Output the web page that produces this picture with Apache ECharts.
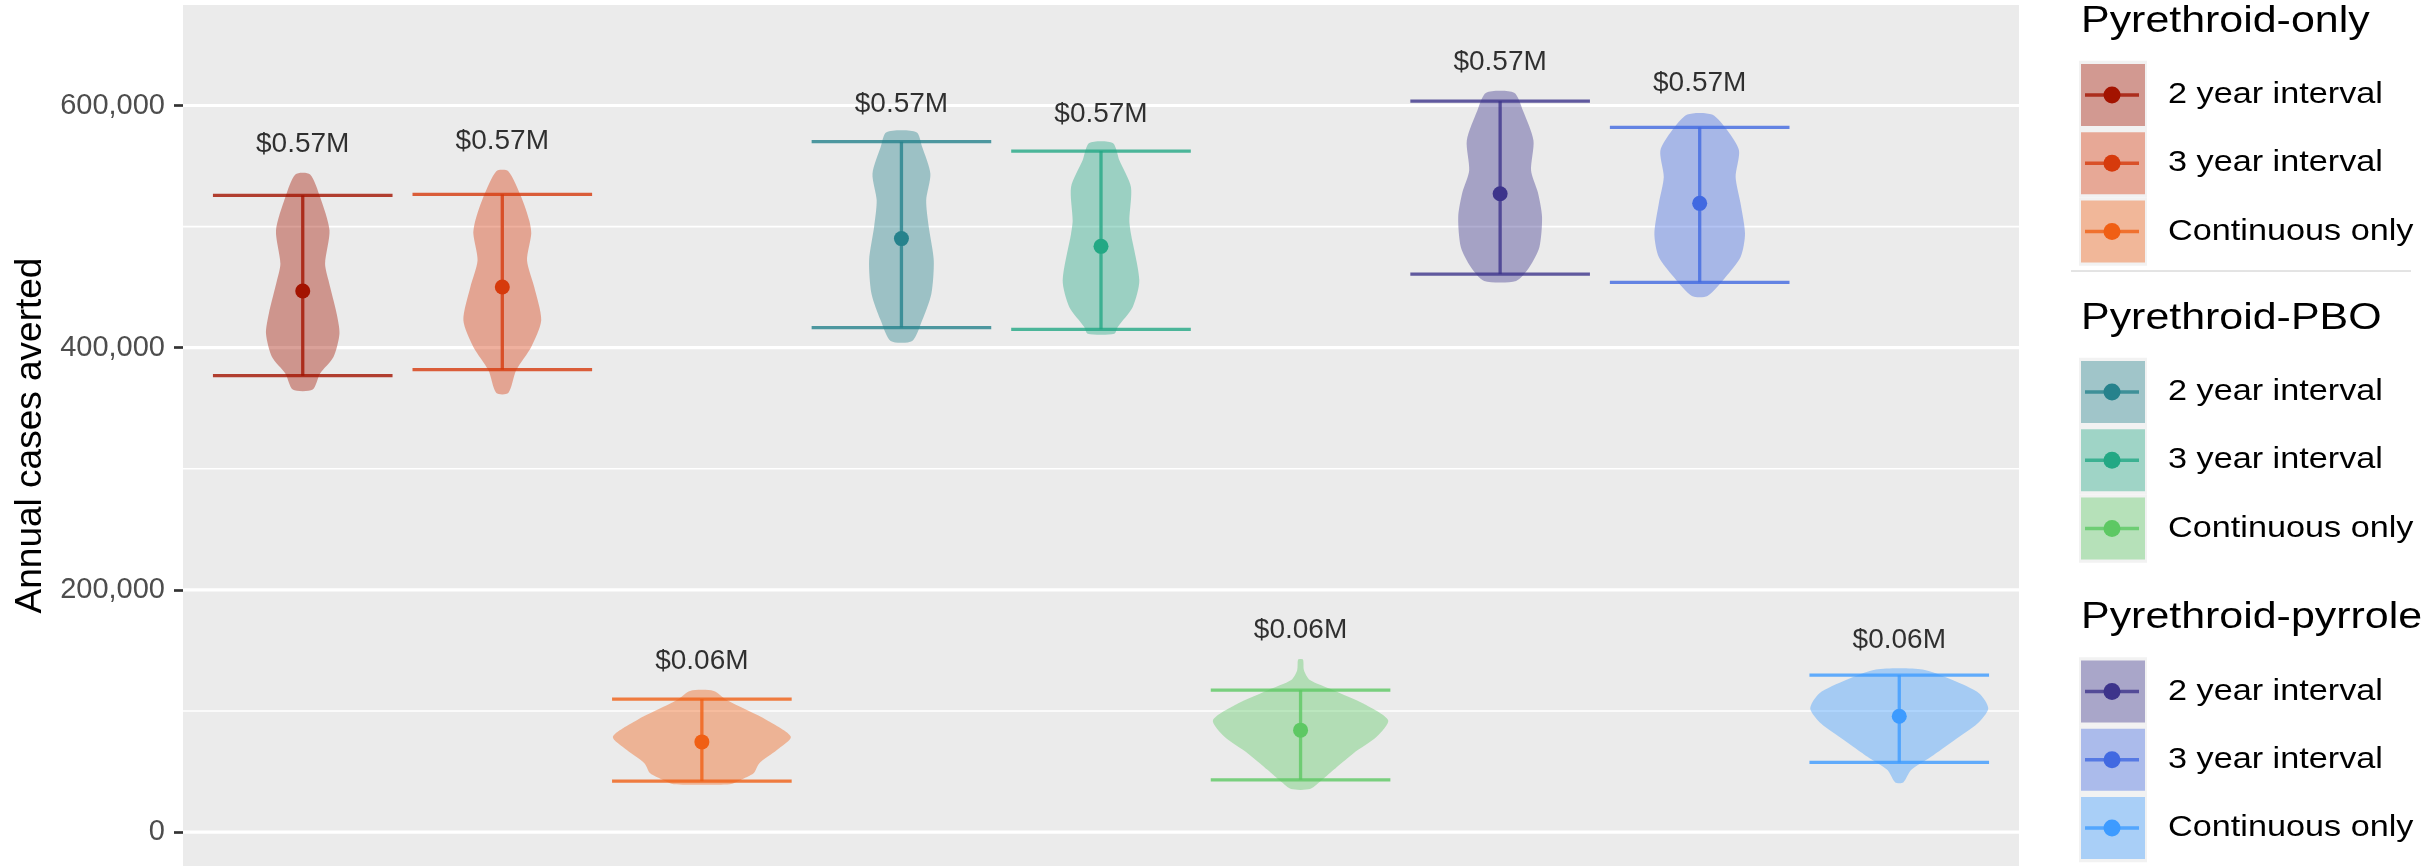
<!DOCTYPE html>
<html><head><meta charset="utf-8">
<script src="https://cdn.jsdelivr.net/npm/echarts@6/dist/echarts.min.js"></script>
<style>html,body{margin:0;padding:0;background:#fff}#c{width:2435px;height:866px}</style>
</head><body><div id="c"></div>
<script>
// ---------- data ----------
const groups = ['Pyrethroid-only', 'Pyrethroid-PBO', 'Pyrethroid-pyrrole'];
const strategies = ['2 year interval', '3 year interval', 'Continuous only'];
const colors = ['#A31300', '#D63A0C', '#F05F14', '#26828C', '#23A884', '#5DC863', '#3D348B', '#4169E1', '#3D9BFF'];
const means = [446800, 450100, 74500, 490100, 483700, 84200, 527100, 519200, 95700];
const lower = [376900, 381900, 42100, 416600, 415200, 43200, 460800, 454000, 57500];
const upper = [525800, 526600, 109800, 570100, 562400, 117200, 603600, 581900, 129600];
const costLabels = ['$0.57M', '$0.57M', '$0.06M', '$0.57M', '$0.57M', '$0.06M', '$0.57M', '$0.57M', '$0.06M'];
const labelY = [568000, 570400, 141100, 601300, 593100, 166700, 635300, 618000, 158500];
// violin outlines: values (top to bottom) and half widths (category units)
const violinValues = [
  [543100, 524400, 496900, 469400, 455600, 428100, 411600, 392300, 378600, 365400],
  [545800, 524400, 505100, 494200, 472100, 450100, 422600, 400600, 381500, 362600],
  [116600, 109000, 92400, 78700, 67700, 56700, 48500, 42900, 39600],
  [578000, 565700, 543700, 521700, 499600, 472100, 444600, 422600, 405600],
  [569000, 554700, 532700, 505100, 494200, 455600, 433600, 417100, 411600],
  [142500, 133700, 125500, 117200, 106200, 92400, 78700, 65000, 51200, 41500, 35500],
  [610500, 595900, 571200, 546400, 528300, 507900, 483100, 466600, 455100],
  [592600, 579400, 562900, 540900, 518900, 494200, 474900, 458400, 442700],
  [134300, 125500, 114500, 102100, 89700, 75900, 62200, 51200, 41000]
];
const violinWidths = [
  [0.037, 0.087, 0.134, 0.112, 0.129, 0.170, 0.184, 0.154, 0.087, 0.050],
  [0.030, 0.095, 0.135, 0.145, 0.124, 0.160, 0.195, 0.145, 0.070, 0.030],
  [0.059, 0.125, 0.326, 0.446, 0.376, 0.287, 0.259, 0.192, 0.140],
  [0.075, 0.104, 0.145, 0.124, 0.137, 0.162, 0.150, 0.104, 0.054],
  [0.059, 0.092, 0.150, 0.142, 0.150, 0.192, 0.159, 0.084, 0.067],
  [0.012, 0.017, 0.047, 0.164, 0.314, 0.439, 0.381, 0.264, 0.164, 0.097, 0.047],
  [0.070, 0.114, 0.167, 0.155, 0.189, 0.210, 0.197, 0.147, 0.080],
  [0.062, 0.139, 0.197, 0.180, 0.205, 0.227, 0.205, 0.130, 0.039],
  [0.117, 0.267, 0.401, 0.446, 0.392, 0.276, 0.159, 0.059, 0.020]
];
const majorTicks = [0, 200000, 400000, 600000];
const minorTicks = [100000, 300000, 500000];

// ---------- chart ----------
const FONT = "'Liberation Sans', Arial, Helvetica, sans-serif";
const XMIN = -0.6, XMAX = 8.6, CAP = 0.45;
const chart = echarts.init(document.getElementById('c'), null, {renderer: 'canvas'});

function gridSeries(ticks, width) {
  return {
    type: 'custom', silent: true, z: 1,
    data: ticks.map(v => [0, v]),
    renderItem: function (params, api) {
      const v = api.value(1);
      const a = api.coord([XMIN, v]), b = api.coord([XMAX, v]);
      return {type: 'line', shape: {x1: a[0], y1: a[1], x2: b[0], y2: b[1]},
        style: {stroke: '#FFFFFF', lineWidth: width}};
    }
  };
}

const idx = colors.map((c, i) => i);

const legendGraphics = [];
const titleY = [21.5, 318.5, 618];
groups.forEach((g, gi) => {
  legendGraphics.push({type: 'text', x: 2081, y: titleY[gi], scaleX: 1.16,
    style: {text: g, font: '37px ' + FONT, fill: '#000', verticalAlign: 'middle', align: 'left'}});
  strategies.forEach((s, si) => {
    const ci = gi * 3 + si;
    const cy = titleY[gi] + 73.5 + si * 68.3;
    legendGraphics.push({type: 'rect', shape: {x: 2079, y: cy - 34.2, width: 68, height: 68.4}, style: {fill: '#F2F2F2'}});
    legendGraphics.push({type: 'rect', shape: {x: 2081, y: cy - 31, width: 64, height: 62}, style: {fill: colors[ci], opacity: 0.4}});
    legendGraphics.push({type: 'line', shape: {x1: 2085, y1: cy, x2: 2139, y2: cy}, style: {stroke: colors[ci], lineWidth: 3.5, opacity: 0.8}});
    legendGraphics.push({type: 'circle', shape: {cx: 2112, cy: cy, r: 8.5}, style: {fill: colors[ci]}});
    legendGraphics.push({type: 'text', x: 2168, y: cy, scaleX: 1.16,
      style: {text: s, font: '29.5px ' + FONT, fill: '#000', verticalAlign: 'middle', align: 'left'}});
  });
});
legendGraphics.push({type: 'line', shape: {x1: 2071, y1: 271, x2: 2411, y2: 271}, style: {stroke: '#C8C8C8', lineWidth: 1}});

chart.setOption({
  animation: false,
  backgroundColor: '#FFFFFF',
  grid: {left: 183, right: 416, top: 5, bottom: 0, show: true, backgroundColor: '#EBEBEB', borderWidth: 0},
  xAxis: {type: 'value', min: XMIN, max: XMAX, show: false},
  yAxis: {
    type: 'value', min: -28000, max: 683000,
    axisLine: {show: false, onZero: false},
    axisTick: {show: true, length: 9, lineStyle: {color: '#333333', width: 2.7}, customValues: majorTicks},
    axisLabel: {customValues: majorTicks, formatter: v => Number(v).toLocaleString('en-US'),
      color: '#4D4D4D', fontSize: 29, margin: 18, fontFamily: FONT},
    splitLine: {show: false},
    name: 'Annual cases averted', nameLocation: 'middle', nameRotate: 90, nameGap: 134,
    nameTextStyle: {fontSize: 37, color: '#000', fontFamily: FONT}
  },
  graphic: legendGraphics,
  series: [
    gridSeries(minorTicks, 1.6),
    gridSeries(majorTicks, 3.2),
    {
      type: 'custom', z: 2, silent: true,
      data: idx.map(i => [i, means[i]]),
      renderItem: function (params, api) {
        const i = params.dataIndex;
        const vals = violinValues[i], hws = violinWidths[i];
        const pts = [];
        for (let k = 0; k < vals.length; k++) pts.push(api.coord([i - hws[k], vals[k]]));
        for (let k = vals.length - 1; k >= 0; k--) pts.push(api.coord([i + hws[k], vals[k]]));
        return {type: 'polygon', shape: {points: pts, smooth: 0.25},
          style: {fill: colors[i], opacity: 0.4}};
      }
    },
    {
      type: 'custom', z: 3, silent: true,
      data: idx.map(i => [i, lower[i], upper[i]]),
      renderItem: function (params, api) {
        const i = params.dataIndex;
        const lo = lower[i], hi = upper[i];
        const st = {stroke: colors[i], lineWidth: 3.3, opacity: 0.8};
        const a = api.coord([i - CAP, hi]), b = api.coord([i + CAP, hi]);
        const c = api.coord([i - CAP, lo]), d = api.coord([i + CAP, lo]);
        const m1 = api.coord([i, hi]), m2 = api.coord([i, lo]);
        return {type: 'group', children: [
          {type: 'line', shape: {x1: a[0], y1: a[1], x2: b[0], y2: b[1]}, style: st},
          {type: 'line', shape: {x1: c[0], y1: c[1], x2: d[0], y2: d[1]}, style: st},
          {type: 'line', shape: {x1: m1[0], y1: m1[1], x2: m2[0], y2: m2[1]}, style: st}
        ]};
      }
    },
    {
      type: 'scatter', z: 4, silent: true, symbolSize: 15,
      data: idx.map(i => ({value: [i, means[i]], itemStyle: {color: colors[i], opacity: 1}}))
    },
    {
      type: 'scatter', z: 5, silent: true, symbolSize: 0,
      data: idx.map(i => [i, labelY[i]]),
      label: {show: true, position: 'inside', formatter: p => costLabels[p.dataIndex],
        fontSize: 28, color: '#000', fontFamily: FONT}
    }
  ]
});
</script>
</body></html>
